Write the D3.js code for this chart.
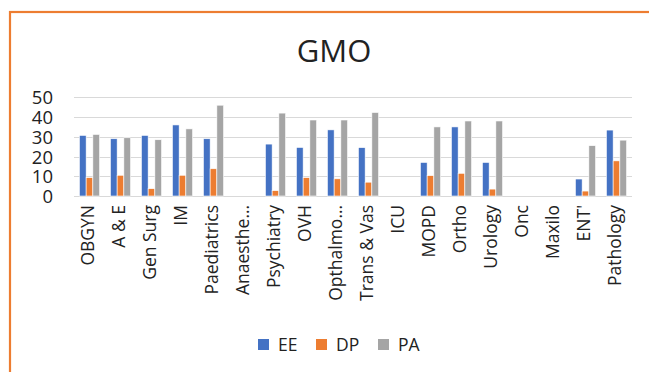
<!DOCTYPE html>
<html>
<head>
<meta charset="utf-8">
<script src="https://cdn.jsdelivr.net/npm/d3@7/dist/d3.min.js"></script>
<style>
  html, body { margin: 0; padding: 0; background: #fff; }
  svg { display: block; }
  text { font-family: "Open Sans", "Noto Sans", sans-serif; fill: #222; }
</style>
</head>
<body>
<svg id="chart" width="649" height="372"></svg>
<script>
const categories = ["OBGYN", "A & E", "Gen Surg", "IM", "Paediatrics", "Anaesthe\u2026", "Psychiatry", "OVH", "Opthalmo\u2026", "Trans & Vas", "ICU", "MOPD", "Ortho", "Urology", "Onc", "Maxilo", "ENT'", "Pathology"];
const seriesNames = ["EE", "DP", "PA"];
const EE = [30.7, 29.0, 30.7, 36.0, 29.0, 0, 26.3, 24.6, 33.5, 24.5, 0, 17.0, 35.0, 17.0, 0, 0, 8.6, 33.4];
const DP = [9.3, 10.5, 3.7, 10.5, 13.8, 0, 2.7, 9.3, 8.7, 7.0, 0, 10.3, 11.5, 3.5, 0, 0, 2.5, 17.8];
const PA = [31.2, 29.5, 28.5, 34.0, 46.0, 0, 42.0, 38.5, 38.5, 42.3, 0, 35.0, 38.0, 38.0, 0, 0, 25.5, 28.3];
const yTicks = [0, 10, 20, 30, 40, 50];
const colors = ["#4472C4", "#ED7D31", "#A5A5A5"];

(function () {
const values = [EE, DP, PA];
const svg = d3.select("#chart");

// outer border (orange)
svg.append("rect").attr("x", 10).attr("y", 12).attr("width", 660).attr("height", 400)
  .attr("fill", "none").attr("stroke", "#ED7D31").attr("stroke-width", 2.2);

const pl = 74, pr = 632, pt = 97.3, pb = 196;

const x0 = d3.scaleBand().domain(categories).range([pl, pr]).paddingInner(0.35).paddingOuter(0.175);
const x1 = d3.scaleBand().domain(seriesNames).range([0, x0.bandwidth()]);
const y = d3.scaleLinear().domain([0, 50]).range([pb, pt]);

// gridlines
svg.append("g").selectAll("line").data(yTicks).join("line")
  .attr("x1", pl).attr("x2", pr)
  .attr("y1", d => Math.round(y(d)) + 0.5).attr("y2", d => Math.round(y(d)) + 0.5)
  .attr("stroke", "#D9D9D9").attr("stroke-width", 1);

// y axis labels
const yAxis = d3.axisLeft(y).tickValues(yTicks).tickSize(0).tickPadding(0);
const gy = svg.append("g").attr("transform", `translate(53,0)`).call(yAxis);
gy.select(".domain").remove();
gy.selectAll("text").attr("font-size", 18.5).attr("fill", "#222").attr("dy", "0.36em")
  .style("font-family", '"Open Sans", sans-serif');

// bars
const groups = svg.append("g").selectAll("g").data(categories).join("g")
  .attr("transform", d => `translate(${x0(d)},0)`);
groups.selectAll("rect").data((d, i) => seriesNames.map((s, k) => ({ s, v: values[k][i], k })))
  .join("rect")
  .attr("x", d => x1(d.s))
  .attr("width", x1.bandwidth())
  .attr("y", d => y(d.v))
  .attr("height", d => pb - y(d.v))
  .attr("fill", d => colors[d.k])
  .attr("stroke", "#fff").attr("stroke-width", 0.6);

// x labels (rotated, clipped)
svg.append("defs").append("clipPath").attr("id", "xclip")
  .append("rect").attr("x", 0).attr("y", 200).attr("width", 649).attr("height", 101);
const xAxis = d3.axisBottom(x0).tickSize(0).tickPadding(0);
const gx = svg.append("g").attr("clip-path", "url(#xclip)")
  .append("g").attr("transform", `translate(0,${pb})`).call(xAxis);
gx.select(".domain").remove();
gx.selectAll("text")
  .attr("font-size", 17.5)
  .attr("fill", "#222")
  .style("font-family", '"Open Sans", sans-serif')
  .attr("text-anchor", "end")
  .attr("transform", "translate(-2,9) rotate(-90)")
  .attr("x", 0).attr("y", 0).attr("dy", "0.36em");

// title
svg.append("text").attr("x", 334).attr("y", 62).attr("text-anchor", "middle")
  .attr("font-size", 31).attr("fill", "#222").text("GMO");

// legend
const legX = [258, 316, 378];
const leg = svg.append("g").selectAll("g").data(seriesNames).join("g")
  .attr("transform", (d, i) => `translate(${legX[i]},339)`);
leg.append("rect").attr("width", 11).attr("height", 11).attr("fill", (d, i) => colors[i]);
leg.append("text").attr("x", 20).attr("y", 12).attr("font-size", 17.5).attr("fill", "#222").text(d => d);
})();
</script>
</body>
</html>
